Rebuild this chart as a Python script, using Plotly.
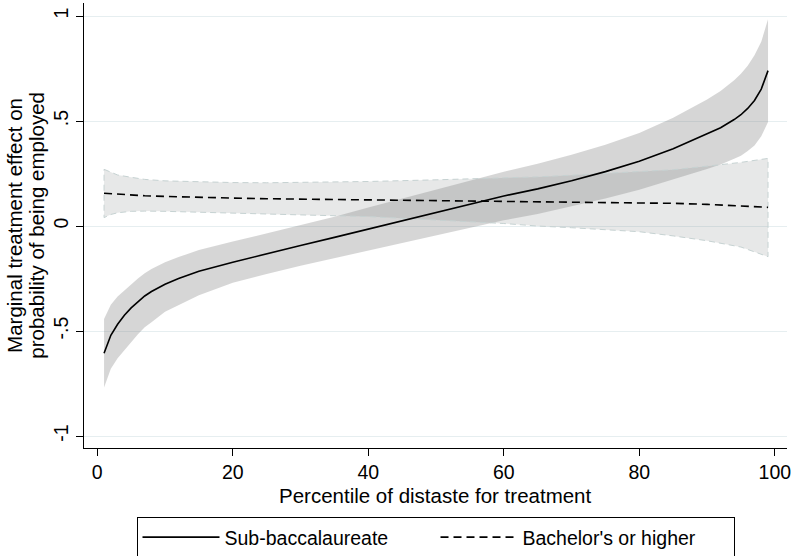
import plotly.graph_objects as go

# ---- data ----
pct_sub = [1, 2, 3, 4, 5, 6, 7, 8, 10, 12, 15, 20, 25, 30, 35, 40, 45, 50, 55, 60, 65, 70, 75, 80, 85, 88, 90, 92, 94, 95, 96, 97, 98, 99]
sub_mean = [-0.606, -0.52, -0.468, -0.425, -0.39, -0.36, -0.333, -0.312, -0.277, -0.25, -0.215, -0.172, -0.131, -0.093, -0.054, -0.014, 0.024, 0.063, 0.104, 0.143, 0.177, 0.216, 0.259, 0.308, 0.368, 0.41, 0.437, 0.468, 0.507, 0.53, 0.56, 0.598, 0.652, 0.74]
sub_upper = [-0.443, -0.375, -0.335, -0.305, -0.278, -0.25, -0.225, -0.205, -0.172, -0.148, -0.114, -0.074, -0.034, 0.003, 0.044, 0.088, 0.13, 0.173, 0.217, 0.259, 0.297, 0.339, 0.387, 0.443, 0.516, 0.568, 0.603, 0.643, 0.694, 0.725, 0.763, 0.813, 0.877, 0.985]
sub_lower = [-0.769, -0.68, -0.63, -0.59, -0.555, -0.515, -0.482, -0.458, -0.408, -0.375, -0.33, -0.27, -0.228, -0.189, -0.152, -0.116, -0.082, -0.047, -0.009, 0.027, 0.057, 0.093, 0.131, 0.173, 0.22, 0.252, 0.271, 0.293, 0.32, 0.335, 0.357, 0.383, 0.427, 0.495]

pct_ba = [1, 2, 3, 5, 7, 10, 15, 20, 25, 30, 40, 50, 60, 65, 70, 80, 85, 90, 95, 99]
ba_mean = [0.156, 0.154, 0.152, 0.147, 0.144, 0.141, 0.136, 0.133, 0.130, 0.128, 0.125, 0.122, 0.118, 0.117, 0.115, 0.111, 0.108, 0.103, 0.097, 0.089]
ba_upper = [0.27, 0.255, 0.243, 0.232, 0.222, 0.215, 0.21, 0.207, 0.206, 0.207, 0.212, 0.22, 0.228, 0.234, 0.242, 0.258, 0.268, 0.285, 0.303, 0.322]
ba_lower = [0.04, 0.055, 0.063, 0.07, 0.071, 0.07, 0.068, 0.062, 0.058, 0.053, 0.045, 0.03, 0.012, 0.0, -0.008, -0.027, -0.047, -0.07, -0.1, -0.146]

ytick_vals = [-1, -0.5, 0, 0.5, 1]
ytick_text = ["-1", "-.5", "0", ".5", "1"]
xtick_vals = [0, 20, 40, 60, 80, 100]

y_title_lines = ["Marginal treatment effect on", "probability of being employed"]
x_title = "Percentile of distaste for treatment"

FONT = "Liberation Sans, Arial, Helvetica, sans-serif"

fig = go.Figure()

# confidence band: sub-baccalaureate
fig.add_trace(go.Scatter(
    x=pct_sub + pct_sub[::-1],
    y=sub_upper + sub_lower[::-1],
    fill="toself", fillcolor="rgba(128,128,128,0.32)",
    line=dict(width=0, color="rgba(0,0,0,0)"),
    mode="lines", showlegend=False, hoverinfo="skip"))

# confidence band: bachelor's
fig.add_trace(go.Scatter(
    x=pct_ba + pct_ba[::-1] + [pct_ba[0]],
    y=ba_upper + ba_lower[::-1] + [ba_upper[0]],
    fill="toself", fillcolor="rgba(130,135,135,0.19)",
    line=dict(width=1, color="#c6d2d2", dash="6px,4px"),
    mode="lines", showlegend=False, hoverinfo="skip"))

fig.add_trace(go.Scatter(
    x=pct_sub, y=sub_mean, mode="lines", name="Sub-baccalaureate",
    line=dict(color="black", width=1.6)))

fig.add_trace(go.Scatter(
    x=pct_ba, y=ba_mean, mode="lines", name="Bachelor's or higher",
    line=dict(color="black", width=1.6, dash="8px,5px")))

fig.update_layout(
    width=793, height=556,
    margin=dict(l=84, r=6, t=3, b=108, autoexpand=False),
    paper_bgcolor="white", plot_bgcolor="white",
    font=dict(family=FONT, size=20, color="black"),
    legend=dict(orientation="h", x=0.5, xanchor="center", y=-0.155, yanchor="top",
                bordercolor="black", borderwidth=1, bgcolor="white",
                font=dict(size=19.5), itemwidth=77,
                entrywidth=206, entrywidthmode="pixels"),
)

# y-axis title (two lines, tight Stata-like spacing)
for txt, xp in zip(y_title_lines, [-0.099, -0.068]):
    fig.add_annotation(text=txt, xref="paper", yref="paper", x=xp, y=0.5,
                       xanchor="center", yanchor="middle", textangle=-90,
                       showarrow=False, font=dict(size=20.5, color="black"))

# x-axis title
fig.add_annotation(text=x_title, xref="paper", yref="paper", x=0.5, y=-0.107,
                   xanchor="center", yanchor="middle", showarrow=False,
                   borderpad=0, font=dict(size=20.5, color="black"))

fig.update_xaxes(
    range=[-1.96, 101.8], tickvals=xtick_vals, ticks="outside", ticklen=7,
    tickcolor="black", showline=True, linecolor="black", linewidth=1,
    showgrid=False, zeroline=False, mirror=False,
    tickfont=dict(size=19.5))

fig.update_yaxes(
    range=[-1.057, 1.062], tickvals=ytick_vals, ticktext=ytick_text, tickangle=-90,
    ticks="outside", ticklen=7, tickcolor="black", showline=True, linecolor="black",
    linewidth=1, showgrid=True, gridcolor="#e6eef0", gridwidth=1, zeroline=False,
    tickfont=dict(size=19.5))

fig.write_html("out.html", config={"displayModeBar": False},
               post_script="document.body.style.margin='0';document.body.style.padding='0';")
